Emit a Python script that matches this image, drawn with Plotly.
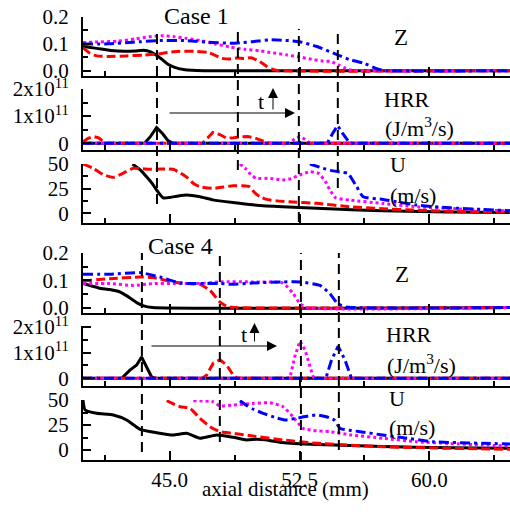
import plotly.graph_objects as go

# ---------------- data ----------------
HRR_UNIT = 1e11

# Case 1 - mixture fraction Z
c1_z_black_x = [40.0, 40.8, 41.6, 42.4, 43.0, 43.5, 43.9, 44.3, 44.6, 44.9, 45.3, 45.8, 46.3, 47.0, 64.65]
c1_z_black_y = [0.090, 0.083, 0.075, 0.072, 0.073, 0.076, 0.070, 0.055, 0.040, 0.024, 0.012, 0.004, 0.001, 0.0, 0.0]
c1_z_red_x = [40.0, 40.4, 40.8, 41.5, 42.5, 43.5, 44.3, 44.9, 45.6, 46.4, 47.2, 47.6, 48.0, 48.4, 48.9, 49.3, 49.7, 50.2, 50.6, 51.0, 51.3, 64.65]
c1_z_red_y = [0.085, 0.065, 0.055, 0.053, 0.055, 0.058, 0.062, 0.068, 0.072, 0.072, 0.068, 0.058, 0.046, 0.043, 0.047, 0.045, 0.048, 0.034, 0.016, 0.004, 0.0, 0.0]
c1_z_mag_x = [40.0, 41.0, 42.0, 43.0, 43.8, 44.5, 45.2, 46.0, 46.8, 47.6, 48.5, 49.3, 50.2, 50.8, 51.8, 52.5, 53.2, 53.8, 54.3, 54.8, 55.1, 55.5, 64.65]
c1_z_mag_y = [0.105, 0.107, 0.110, 0.118, 0.126, 0.130, 0.127, 0.120, 0.112, 0.100, 0.088, 0.080, 0.074, 0.068, 0.058, 0.051, 0.042, 0.036, 0.034, 0.020, 0.010, 0.002, 0.0]
c1_z_blue_x = [40.0, 41.5, 42.9, 44.4, 46.0, 47.5, 48.6, 49.2, 49.8, 50.8, 51.9, 52.5, 53.5, 54.7, 55.4, 56.2, 57.0, 57.5, 64.65]
c1_z_blue_y = [0.099, 0.100, 0.106, 0.112, 0.112, 0.105, 0.102, 0.105, 0.108, 0.115, 0.112, 0.108, 0.090, 0.059, 0.041, 0.028, 0.006, 0.0, 0.0]

# Case 1 - heat release rate (units of 1e11 J/m3/s)
c1_h_black_x = [40.0, 43.55, 43.9, 44.25, 44.6, 44.9, 45.2, 64.65]
c1_h_black_y = [0, 0, 0.25, 0.58, 0.35, 0.10, 0, 0]
c1_h_red_x = [40.0, 40.3, 40.6, 40.9, 41.3, 46.9, 47.2, 47.5, 47.9, 48.3, 48.7, 49.1, 49.5, 49.9, 50.4, 50.8, 64.65]
c1_h_red_y = [0.05, 0.18, 0.25, 0.20, 0, 0, 0.20, 0.40, 0.32, 0.18, 0.20, 0.24, 0.25, 0.20, 0.08, 0, 0]
c1_h_mag_x = [40.0, 51.9, 52.2, 52.5, 52.8, 53.1, 64.65]
c1_h_mag_y = [0, 0, 0.15, 0.25, 0.15, 0, 0]
c1_h_blue_x = [40.0, 54.1, 54.4, 54.7, 55.0, 55.4, 64.65]
c1_h_blue_y = [0, 0, 0.35, 0.65, 0.35, 0, 0]

# Case 1 - velocity U (m/s)
c1_u_black_x = [42.86, 43.3, 43.67, 44.0, 44.25, 44.63, 45.02, 45.5, 46.0, 46.75, 47.5, 48.66, 49.8, 51.5, 53.5, 55.5, 58.0, 61.0, 64.65]
c1_u_black_y = [50, 44, 37, 30, 23.5, 15.5, 16, 17.5, 18.4, 16.6, 13.5, 10.8, 8.5, 6.5, 5.0, 3.5, 2.2, 1.3, 0.8]
c1_u_red_x = [40.0, 40.6, 41.2, 41.75, 42.3, 42.9, 43.87, 45.2, 45.6, 46.0, 46.4, 46.75, 47.5, 48.1, 48.66, 49.2, 49.6, 49.85, 50.0, 50.3, 50.6, 51.2, 51.9, 53.5, 55.4, 57.3, 59.3, 61.2, 63.1, 64.65]
c1_u_red_y = [50, 45.5, 39, 36.4, 40.5, 45.6, 44.6, 44.6, 41, 36.4, 30, 26.9, 25.2, 26.5, 27.9, 27.8, 27, 22, 19.4, 16, 14, 12.5, 11.6, 10, 6.5, 4.5, 3, 2, 1.4, 1.0]
c1_u_mag_x = [49.06, 49.4, 49.7, 50.0, 50.8, 51.5, 52.0, 52.5, 53.1, 53.6, 54.0, 54.25, 54.6, 55.4, 57.3, 59.3, 61.2, 63.1, 64.65]
c1_u_mag_y = [50, 45, 39, 35.5, 35.4, 33.7, 35, 38.8, 42.2, 40.5, 32, 23.5, 15.5, 13.3, 9.9, 6.4, 4.8, 3.1, 2.4]
c1_u_blue_x = [53.1, 53.87, 54.3, 54.73, 55.0, 55.3, 55.55, 55.8, 56.17, 57.33, 58.3, 59.27, 61.2, 63.1, 64.65]
c1_u_blue_y = [50, 45.6, 43.5, 42.2, 41.5, 40.5, 34, 27, 16.7, 14, 11, 8.2, 5.4, 3.8, 2.4]

# Case 4 - Z
c4_z_black_x = [40.0, 40.9, 41.55, 42.1, 42.6, 43.1, 43.5, 44.0, 64.65]
c4_z_black_y = [0.088, 0.072, 0.066, 0.058, 0.040, 0.018, 0.006, 0.0, 0.0]
c4_z_red_x = [40.0, 41.56, 43.29, 44.04, 45.2, 46.0, 46.75, 47.33, 47.91, 48.31, 48.7, 64.65]
c4_z_red_y = [0.097, 0.106, 0.112, 0.110, 0.094, 0.088, 0.085, 0.063, 0.020, 0.004, 0.0, 0.0]
c4_z_mag_x = [40.0, 41.56, 42.89, 44.04, 45.2, 46.75, 47.91, 49.81, 51.54, 52.12, 52.52, 52.9, 64.65]
c4_z_mag_y = [0.088, 0.088, 0.081, 0.088, 0.088, 0.088, 0.094, 0.094, 0.090, 0.052, 0.015, 0.0, 0.0]
c4_z_blue_x = [40.0, 41.56, 43.29, 44.44, 45.6, 46.75, 47.91, 48.66, 49.81, 51.54, 52.52, 53.68, 54.25, 54.71, 55.2, 64.65]
c4_z_blue_y = [0.122, 0.122, 0.128, 0.112, 0.090, 0.088, 0.088, 0.085, 0.090, 0.094, 0.094, 0.081, 0.051, 0.014, 0.002, 0.0]

# Case 4 - HRR (units of 1e11)
c4_h_black_x = [40.0, 42.23, 42.71, 43.1, 43.38, 43.67, 43.96, 44.2, 64.65]
c4_h_black_y = [0, 0, 0.32, 0.52, 0.83, 0.45, 0.05, 0, 0]
c4_h_red_x = [40.0, 46.9, 47.13, 47.52, 47.9, 48.29, 48.67, 48.9, 64.65]
c4_h_red_y = [0, 0, 0.12, 0.59, 0.72, 0.52, 0.12, 0, 0]
c4_h_mag_x = [40.0, 51.94, 52.23, 52.52, 52.81, 53.1, 53.29, 53.45, 64.65]
c4_h_mag_y = [0, 0, 0.85, 1.45, 1.12, 0.45, 0.05, 0, 0]
c4_h_blue_x = [40.0, 54.02, 54.35, 54.73, 55.12, 55.5, 64.65]
c4_h_blue_y = [0, 0, 0.72, 1.25, 0.72, 0, 0]

# Case 4 - U
c4_u_black_x = [40.0, 40.12, 40.79, 41.75, 42.52, 43.29, 44.25, 45.21, 45.98, 46.75, 47.71, 48.67, 49.44, 50.02, 50.5, 51.5, 53.5, 57.3, 61.2, 64.65]
c4_u_black_y = [50, 40, 36.7, 35, 30, 20.7, 17.3, 15, 16.7, 11.7, 15, 12.7, 10, 10.7, 10.2, 7.5, 5.5, 3.5, 2.3, 1.7]
c4_u_red_x = [44.83, 45.6, 46.17, 46.75, 47.33, 47.9, 48.66, 49.8, 51.54, 53.5, 57.3, 61.2, 64.65]
c4_u_red_y = [49.3, 43.3, 41.7, 31.7, 23.3, 18.3, 16.7, 14, 10, 6.7, 3.3, 1.7, 0.7]
c4_u_mag_x = [46.37, 47.5, 47.9, 48.66, 49.8, 50.8, 51.54, 52.12, 52.69, 53.3, 54.25, 55.5, 57.31, 59.27, 61.2, 63.08, 64.65]
c4_u_mag_y = [49.3, 48.3, 44, 45, 46.5, 47.3, 43.3, 33.3, 21.7, 19.5, 18.3, 15, 11.7, 8.3, 6.5, 5, 4]
c4_u_blue_x = [49.06, 49.5, 49.8, 50.4, 51.2, 51.7, 52.3, 53.0, 53.5, 54.1, 54.5, 54.85, 55.5, 56.0, 57.3, 58.3, 60.2, 63.1, 64.65]
c4_u_blue_y = [49.3, 44, 41, 36.7, 32, 30, 31.7, 34, 35, 33, 30, 21.5, 19.5, 18.3, 15, 12.7, 8.3, 6.7, 6]

# flame-front marker positions (mm)
c1_marks = [44.27, 48.94, 52.46, 54.71]
c4_marks = [43.40, 47.90, 52.58, 54.77]

# tick labels
x_tickvals = [45.0, 52.5, 60.0]
z_tickvals = [0.0, 0.1, 0.2]
z_ticktext = ["0.0", "0.1", "0.2"]
h_tickvals = [0, 1, 2]
h_ticktext = ["0", "1x10<sup>11</sup>", "2x10<sup>11</sup>"]
u_tickvals = [0, 25, 50]
u_ticktext = ["0", "25", "50"]

# ---------------- layout helpers ----------------
W, H = 510, 514
L = 83
PW = W - L
FONT = "Liberation Serif"


def fx(p):
    return (p - L) / PW


def fy(p):
    return 1 - p / H


# panel pixel extents (top, bottom)
panels = [(17, 76), (89, 150), (164, 223), (253, 313), (326, 386), (400, 460)]

STY = {
    "black": dict(color="#000000", width=3, dash="solid"),
    "red": dict(color="#ff0000", width=3, dash="9px,4px"),
    "mag": dict(color="#ff00ff", width=3, dash="3px,3px"),
    "blue": dict(color="#0000ff", width=3, dash="10px,4px,3px,4px"),
}

fig = go.Figure()

series = [
    (1, "z", [(c1_z_black_x, c1_z_black_y, "black"), (c1_z_red_x, c1_z_red_y, "red"),
              (c1_z_mag_x, c1_z_mag_y, "mag"), (c1_z_blue_x, c1_z_blue_y, "blue")]),
    (2, "h", [(c1_h_black_x, c1_h_black_y, "black"), (c1_h_red_x, c1_h_red_y, "red"),
              (c1_h_mag_x, c1_h_mag_y, "mag"), (c1_h_blue_x, c1_h_blue_y, "blue")]),
    (3, "u", [(c1_u_black_x, c1_u_black_y, "black"), (c1_u_red_x, c1_u_red_y, "red"),
              (c1_u_mag_x, c1_u_mag_y, "mag"), (c1_u_blue_x, c1_u_blue_y, "blue")]),
    (4, "z", [(c4_z_black_x, c4_z_black_y, "black"), (c4_z_red_x, c4_z_red_y, "red"),
              (c4_z_mag_x, c4_z_mag_y, "mag"), (c4_z_blue_x, c4_z_blue_y, "blue")]),
    (5, "h", [(c4_h_black_x, c4_h_black_y, "black"), (c4_h_red_x, c4_h_red_y, "red"),
              (c4_h_mag_x, c4_h_mag_y, "mag"), (c4_h_blue_x, c4_h_blue_y, "blue")]),
    (6, "u", [(c4_u_black_x, c4_u_black_y, "black"), (c4_u_red_x, c4_u_red_y, "red"),
              (c4_u_mag_x, c4_u_mag_y, "mag"), (c4_u_blue_x, c4_u_blue_y, "blue")]),
]

for idx, kind, lines in series:
    for xs, ys, key in lines:
        if kind == "h":
            yv = [v * HRR_UNIT for v in ys]
            shape = "linear"
        else:
            yv = ys
            shape = "spline"
        fig.add_trace(go.Scatter(
            x=xs, y=yv, mode="lines",
            line=dict(color=STY[key]["color"], width=STY[key]["width"],
                      dash=STY[key]["dash"], shape=shape, smoothing=0.5),
            xaxis="x" if idx == 1 else f"x{idx}",
            yaxis="y" if idx == 1 else f"y{idx}",
            showlegend=False, hoverinfo="skip"))

tickfont = dict(family=FONT, size=21, color="black")
layout = dict(
    width=W, height=H, margin=dict(l=L, r=0, t=0, b=0),
    paper_bgcolor="white", plot_bgcolor="white", template="none",
    showlegend=False, font=dict(family=FONT, color="black"),
)

yspec = {
    "z": dict(range=[-0.02, 0.2], tickvals=z_tickvals, ticktext=z_ticktext, minor=[0.05, 0.15]),
    "h": None,
    "u": dict(range=[-10, 50], tickvals=u_tickvals, ticktext=u_ticktext, minor=[12.5, 37.5]),
}
h_ranges = {2: [-0.25, 2.0], 5: [-0.3, 2.04]}

for i, (top, bot) in enumerate(panels, start=1):
    kind = series[i - 1][1]
    xname = "xaxis" if i == 1 else f"xaxis{i}"
    yname = "yaxis" if i == 1 else f"yaxis{i}"
    layout[xname] = dict(
        domain=[0, 1], anchor="y" if i == 1 else f"y{i}",
        range=[40, 64.65], tickmode="array", tickvals=x_tickvals, tickformat=".1f",
        ticks="inside", ticklen=9, tickwidth=2, tickcolor="black",
        showline=True, linewidth=2, linecolor="black",
        showgrid=False, zeroline=False, automargin=False,
        showticklabels=(i == 6), tickfont=tickfont, ticklabelstandoff=0,
        minor=dict(tickmode="array", tickvals=[41.25, 48.75, 56.25, 63.75],
                   ticks="inside", ticklen=5, tickwidth=2, tickcolor="black", showgrid=False),
    )
    if kind == "h":
        rng = [v * HRR_UNIT for v in h_ranges[i]]
        tv = [v * HRR_UNIT for v in h_tickvals]
        tt = h_ticktext
        mv = [0.5 * HRR_UNIT, 1.5 * HRR_UNIT]
    else:
        rng = yspec[kind]["range"]
        tv = yspec[kind]["tickvals"]
        tt = yspec[kind]["ticktext"]
        mv = yspec[kind]["minor"]
    layout[yname] = dict(
        domain=[fy(bot), fy(top)], anchor="x" if i == 1 else f"x{i}",
        range=rng, tickmode="array", tickvals=tv, ticktext=tt,
        ticks="inside", ticklen=8, tickwidth=2, tickcolor="black",
        showline=True, linewidth=2, linecolor="black",
        showgrid=False, zeroline=False, automargin=False,
        tickfont=tickfont, ticklabelstandoff=8,
        minor=dict(tickmode="array", tickvals=mv, ticks="inside", ticklen=5,
                   tickwidth=2, tickcolor="black", showgrid=False),
    )

fig.update_layout(**layout)

# vertical dashed marker lines
c1_top, c1_bots = 29, [204, 170, 222, 188]
c4_top, c4_bots = 253, [452, 442, 462, 450]
for xs, top, bots in [(c1_marks, c1_top, c1_bots), (c4_marks, c4_top, c4_bots)]:
    for xv, b in zip(xs, bots):
        fig.add_shape(type="line", xref="x", yref="paper", x0=xv, x1=xv,
                      y0=fy(b), y1=fy(top),
                      line=dict(color="black", width=2, dash="10px,6px"))

# text annotations
def txt(s, xp, yp, size=22):
    fig.add_annotation(text=s, x=fx(xp), y=fy(yp), xref="paper", yref="paper",
                       xanchor="center", yanchor="middle", showarrow=False,
                       font=dict(family=FONT, size=size, color="black"))

txt("Case 1", 196, 16, 24)
txt("Case 4", 180, 246, 24)
txt("Z", 401, 38, 23)
txt("HRR", 407, 100, 22)
txt("(J/m<sup>3</sup>/s)", 419, 127, 22)
txt("U", 398, 165, 22)
txt("(m/s)", 413, 195, 22)
txt("Z", 402, 274, 23)
txt("HRR", 409, 334, 22)
txt("(J/m<sup>3</sup>/s)", 421, 364, 22)
txt("U", 397, 398, 22)
txt("(m/s)", 412, 427, 22)
txt("t", 261, 102, 22)
txt("t", 244, 334, 22)
txt("axial distance (mm)", 285, 489, 21)

# arrows (head, tail in pixels)
def arrow(hx, hy, tx, ty):
    fig.add_annotation(text="", x=fx(hx), y=fy(hy), xref="paper", yref="paper",
                       ax=tx - hx, ay=ty - hy, axref="pixel", ayref="pixel",
                       showarrow=True, arrowhead=2, arrowsize=2, arrowwidth=1,
                       arrowcolor="black")

arrow(295, 113, 168, 113)
arrow(273, 88, 273, 111)
arrow(277, 346, 150, 346)
arrow(254.5, 323, 254.5, 343)

fig.write_html("out.html", config={"displayModeBar": False},
               post_script="document.body.style.margin='0';document.body.style.overflow='hidden';")
